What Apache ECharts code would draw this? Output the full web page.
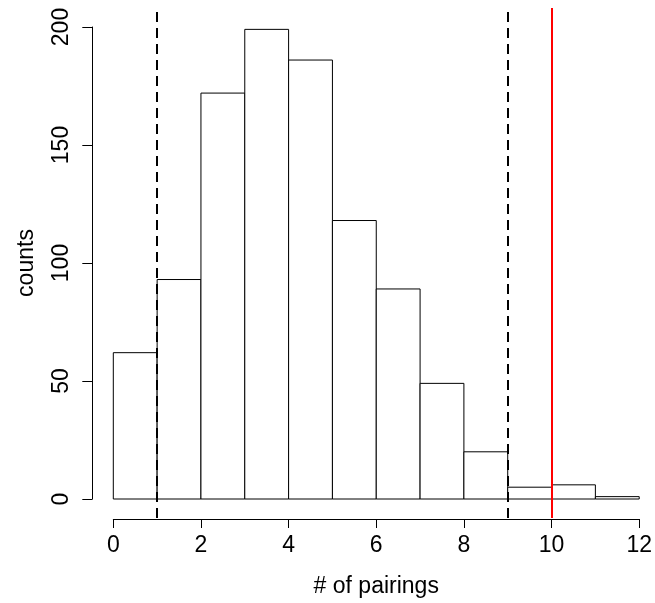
<!DOCTYPE html>
<html>
<head>
<meta charset="utf-8">
<script src="https://cdn.jsdelivr.net/npm/echarts@6/dist/echarts.min.js"></script>
<style>
  html, body { margin: 0; padding: 0; background: #fff; }
  #chart { width: 655px; height: 603px; }
</style>
</head>
<body>
<div id="chart"></div>
<script>
// Histogram of pairing counts with interval cut-offs and the observed value
const binEdges = [0, 1, 2, 3, 4, 5, 6, 7, 8, 9, 10, 11, 12];
const counts = [62, 93, 172, 199, 186, 118, 89, 49, 20, 5, 6, 1];
const cutoffs = [1, 9];      // dashed interval bounds
const observed = [10];       // red observed value
const xTicks = [0, 2, 4, 6, 8, 10, 12];
const yTicks = [0, 50, 100, 150, 200];

const FONT = '"Liberation Sans", Arial, Helvetica, sans-serif';
const FS = 23;

// each bin: [start, end, count]
const binData = counts.map((c, i) => [binEdges[i], binEdges[i + 1], c]);

const plotLeft = 113.3;
const plotWidth = 526;
const plotTop = 27;
const plotHeight = 472;
const yMin = yTicks[0], yMax = yTicks[yTicks.length - 1];
const pxPerUnit = plotHeight / (yMax - yMin);
const pad = (yMax - yMin) * 0.04;   // plot region padding for the reference lines

const chart = echarts.init(document.getElementById('chart'), null, { renderer: 'canvas' });

const refLines = [];
cutoffs.forEach(v => refLines.push({
  xAxis: v,
  lineStyle: { color: '#000', width: 2, type: [10, 6] }
}));
observed.forEach(v => refLines.push({
  xAxis: v,
  lineStyle: { color: '#ff0000', width: 2, type: 'solid' }
}));

chart.setOption({
  animation: false,
  backgroundColor: '#fff',
  grid: [
    { left: plotLeft, top: plotTop, width: plotWidth, height: plotHeight },
    { left: plotLeft, top: plotTop - pad * pxPerUnit, width: plotWidth,
      height: plotHeight + 2 * pad * pxPerUnit }
  ],
  xAxis: [
    {
      gridIndex: 0, type: 'value',
      min: xTicks[0], max: xTicks[xTicks.length - 1], interval: 2,
      offset: 20,
      name: '# of pairings', nameLocation: 'middle', nameGap: 56,
      nameTextStyle: { fontFamily: FONT, fontSize: FS, color: '#000' },
      axisLine: { show: true, onZero: false, lineStyle: { color: '#000', width: 1 } },
      axisTick: { show: true, length: 9, lineStyle: { color: '#000', width: 1 } },
      axisLabel: { fontFamily: FONT, fontSize: FS, color: '#000', margin: 15 },
      splitLine: { show: false }
    },
    {
      gridIndex: 1, type: 'value',
      min: xTicks[0], max: xTicks[xTicks.length - 1],
      show: false
    }
  ],
  yAxis: [
    {
      gridIndex: 0, type: 'value',
      min: yMin, max: yMax, interval: 50,
      offset: 21,
      name: 'counts', nameLocation: 'middle', nameGap: 54,
      nameTextStyle: { fontFamily: FONT, fontSize: FS, color: '#000' },
      axisLine: { show: true, onZero: false, lineStyle: { color: '#000', width: 1 } },
      axisTick: { show: true, length: 10, lineStyle: { color: '#000', width: 1 } },
      axisLabel: { fontFamily: FONT, fontSize: FS, color: '#000', margin: 19, rotate: 90 },
      splitLine: { show: false }
    },
    {
      gridIndex: 1, type: 'value',
      min: yMin - pad, max: yMax + pad,
      show: false
    }
  ],
  series: [
    {
      type: 'custom',
      xAxisIndex: 0, yAxisIndex: 0,
      data: binData,
      encode: { x: [0, 1], y: 2 },
      renderItem: function (params, api) {
        const topLeft = api.coord([api.value(0), api.value(2)]);
        const bottomRight = api.coord([api.value(1), 0]);
        return {
          type: 'rect',
          shape: {
            x: topLeft[0], y: topLeft[1],
            width: bottomRight[0] - topLeft[0],
            height: bottomRight[1] - topLeft[1]
          },
          style: { fill: '#fff', stroke: '#000', lineWidth: 1 }
        };
      },
      z: 2
    },
    {
      type: 'line',
      xAxisIndex: 1, yAxisIndex: 1,
      data: [],
      z: 5,
      markLine: {
        silent: true,
        symbol: ['none', 'none'],
        label: { show: false },
        data: refLines
      }
    }
  ]
});
</script>
</body>
</html>
